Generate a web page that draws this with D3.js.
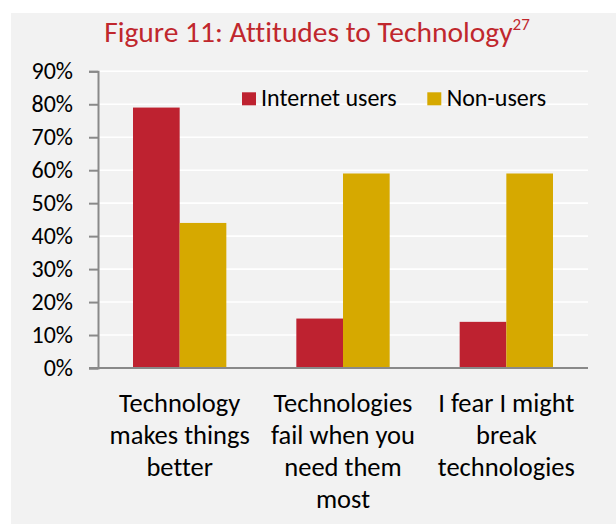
<!DOCTYPE html>
<html>
<head>
<meta charset="utf-8">
<script src="https://cdn.jsdelivr.net/npm/d3@7"></script>
<style>
  html, body { margin: 0; padding: 0; background: #ffffff; }
  svg { display: block; }
  text { font-family: Carlito, Calibri, Lato, "Open Sans", sans-serif; font-variant-ligatures: none; }
</style>
</head>
<body>
<svg id="chart" width="616" height="524"></svg>
<script>
// Survey categories, with the wrapped lines used for the axis labels
const categories = ["Technology makes things better", "Technologies fail when you need them most", "I fear I might break technologies"];
const categoryLines = [
  ["Technology", "makes things", "better"],
  ["Technologies", "fail when you", "need them", "most"],
  ["I fear I might", "break", "technologies"]
];
const seriesNames = ["Internet users", "Non-users"];
const internetUsers = [79, 15, 14];
const nonUsers = [44, 59, 59];
const yTicks = [0, 10, 20, 30, 40, 50, 60, 70, 80, 90];

const colors = { "Internet users": "#be2230", "Non-users": "#d6a900" };

const svg = d3.select("#chart");

// Grey panel behind the whole figure
svg.append("rect")
  .attr("x", 11).attr("y", 13)
  .attr("width", 605).attr("height", 511)
  .attr("fill", "#f2f2f2");

// Title with superscript footnote marker
const title = svg.append("text")
  .attr("x", 317).attr("y", 42)
  .attr("text-anchor", "middle")
  .attr("fill", "#c0272d")
  .style("font-size", "29.5px");
title.append("tspan").text("Figure 11: Attitudes to Technology");
title.append("tspan").attr("dy", -12).style("font-size", "17px").text("27");

const plot = { left: 98, right: 588, top: 71.3, bottom: 368 };

const x0 = d3.scaleBand()
  .domain(categories)
  .range([plot.left, plot.right])
  .paddingInner(0.4286)
  .paddingOuter(0.2143);

const x1 = d3.scaleBand()
  .domain(seriesNames)
  .range([0, x0.bandwidth()]);

const y = d3.scaleLinear()
  .domain([0, 90])
  .range([plot.bottom, plot.top]);

// Horizontal gridlines
svg.append("g")
  .selectAll("line")
  .data(yTicks.filter(d => d > 0))
  .join("line")
  .attr("x1", plot.left).attr("x2", plot.right)
  .attr("y1", d => y(d)).attr("y2", d => y(d))
  .attr("stroke", "#ffffff")
  .attr("stroke-width", 1.6);

// Bars
const rows = categories.map((c, i) => ({
  category: c,
  values: [
    { series: "Internet users", value: internetUsers[i] },
    { series: "Non-users", value: nonUsers[i] }
  ]
}));

svg.append("g")
  .selectAll("g")
  .data(rows)
  .join("g")
  .attr("transform", d => `translate(${x0(d.category)},0)`)
  .selectAll("rect")
  .data(d => d.values)
  .join("rect")
  .attr("x", d => x1(d.series))
  .attr("width", x1.bandwidth())
  .attr("y", d => y(d.value))
  .attr("height", d => y(0) - y(d.value))
  .attr("fill", d => colors[d.series]);

// Y axis
const yAxis = svg.append("g")
  .attr("transform", `translate(${plot.left},0)`)
  .call(d3.axisLeft(y).tickValues(yTicks).tickFormat(d => d + "%").tickSize(9).tickPadding(16));
yAxis.select(".domain").attr("stroke", "#898989").attr("stroke-width", 2);
yAxis.selectAll(".tick line").attr("stroke", "#898989").attr("stroke-width", 2);
yAxis.selectAll(".tick text")
  .attr("fill", "#000000")
  .style("font-size", "24px")
  .style("font-family", 'Carlito, Calibri, Lato, "Open Sans", sans-serif');

// X axis baseline
svg.append("line")
  .attr("x1", plot.left - 9).attr("x2", plot.right)
  .attr("y1", y(0)).attr("y2", y(0))
  .attr("stroke", "#898989")
  .attr("stroke-width", 2);

// Category labels
svg.append("g")
  .selectAll("text")
  .data(categories)
  .join("text")
  .attr("x", d => x0(d) + x0.bandwidth() / 2)
  .attr("y", 411.7)
  .attr("text-anchor", "middle")
  .attr("fill", "#000000")
  .style("font-size", "26.5px")
  .selectAll("tspan")
  .data((d, i) => categoryLines[i])
  .join("tspan")
  .attr("x", function () { return this.parentNode.getAttribute("x"); })
  .attr("dy", (d, i) => i === 0 ? 0 : 32)
  .text(d => d);

// Legend
const legendItems = [
  { name: "Internet users", sx: 242, tx: 261 },
  { name: "Non-users", sx: 427.3, tx: 446.7 }
];
const legend = svg.append("g");
legend.selectAll("rect")
  .data(legendItems)
  .join("rect")
  .attr("x", d => d.sx).attr("y", 92.3)
  .attr("width", 14).attr("height", 13)
  .attr("fill", d => colors[d.name]);
legend.selectAll("text")
  .data(legendItems)
  .join("text")
  .attr("x", d => d.tx).attr("y", 105.7)
  .attr("fill", "#000000")
  .style("font-size", "24px")
  .text(d => d.name);
</script>
</body>
</html>
